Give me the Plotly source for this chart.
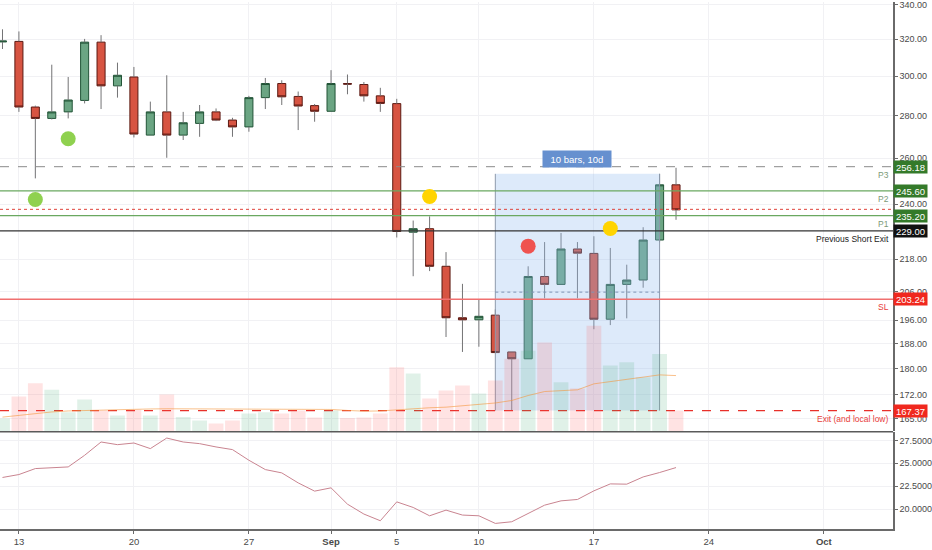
import numpy as np
import pandas as pd
import plotly.graph_objects as go

# daily bars, 12 Aug - 22 Sep 2018
dates = pd.date_range("2018-08-12", "2018-09-22", freq="D")

opens = [318.5, 318.8, 284.3, 278.7, 281.9, 287.6, 318.4, 295.0, 299.6, 270.7,
         281.9, 270.7, 276.3, 281.9, 277.9, 274.6, 289.0, 296.2, 289.6, 285.0,
         282.2, 296.2, 295.7, 289.9, 286.0, 228.5, 229.9, 215.3, 196.8, 196.1,
         197.7, 185.4, 183.2, 211.5, 208.6, 221.9, 220.2, 196.3, 208.6, 210.2,
         225.4, 248.2]
highs = [325.6, 324.4, 285.0, 306.1, 299.6, 320.2, 322.3, 307.2, 304.9, 287.0,
         300.5, 281.9, 285.3, 283.6, 279.0, 289.9, 299.1, 297.9, 292.1, 285.8,
         303.2, 300.9, 297.0, 294.0, 288.4, 233.2, 234.9, 220.7, 208.8, 203.2,
         199.7, 185.4, 215.3, 224.6, 228.2, 224.6, 226.9, 222.3, 215.9, 230.5,
         253.0, 255.7]
lows = [314.6, 281.9, 251.0, 278.2, 278.7, 286.1, 283.3, 289.0, 269.6, 270.7,
        260.2, 268.4, 269.9, 277.4, 269.9, 272.3, 283.3, 285.3, 273.1, 277.1,
        282.2, 290.7, 287.0, 281.9, 226.4, 211.6, 213.5, 190.3, 185.4, 187.1,
        185.0, 167.37, 183.2, 203.6, 208.6, 203.6, 192.9, 194.3, 196.6, 207.4,
        224.5, 233.5]
closes = [319.0, 284.3, 278.7, 281.9, 287.8, 318.4, 295.0, 300.5, 271.2, 281.9,
          270.7, 276.6, 281.9, 277.9, 274.6, 289.0, 296.2, 289.4, 284.8, 282.2,
          296.2, 295.9, 289.9, 286.1, 228.8, 229.9, 215.3, 196.8, 196.1, 197.3,
          185.2, 183.2, 211.5, 208.6, 221.9, 220.3, 196.3, 208.6, 210.2, 225.4,
          248.2, 237.6]
volumes = [130, 350, 483, 417, 193, 320, 210, 160, 220, 160,
           370, 143, 110, 80, 110, 180, 193, 180, 210, 140,
           210, 133, 140, 180, 643, 580, 330, 410, 460, 380,
           510, 730, 810, 893, 493, 430, 1060, 660, 693, 543,
           777, 210]
volume_ma = [143, 160, 180, 195, 205, 210, 215, 220, 220, 225,
             227, 227, 227, 225, 225, 227, 227, 227, 225, 225,
             220, 210, 203, 205, 217, 230, 237, 243, 255, 267,
             285, 310, 360, 400, 410, 417, 477, 500, 527, 545,
             567, 560]
indicator = [23.45, 23.77, 24.42, 24.53, 24.60, 25.87, 27.32, 27.03, 27.21, 26.60,
             27.75, 27.32, 27.14, 26.78, 26.49, 25.33, 24.31, 23.95, 22.86, 21.96,
             22.32, 20.54, 19.46, 18.73, 20.79, 20.18, 19.27, 19.89, 19.35, 19.27,
             18.44, 18.62, 19.53, 20.43, 20.90, 21.05, 21.99, 22.75, 22.72, 23.51,
             23.99, 24.53]

# horizontal levels drawn on the chart
level_prices = [256.18, 245.60, 237.8, 235.20, 229.00, 203.24, 167.37]
level_labels = ["P3", "P2", "", "P1", "Previous Short Exit", "SL", "Exit (and local low)"]
level_tags = ["256.18", "245.60", "", "235.20", "229.00", "203.24", "167.37"]

signal_dates = ["2018-08-14", "2018-08-16", "2018-09-07", "2018-09-13", "2018-09-18"]
signal_prices = [241.9, 269.0, 243.2, 223.0, 230.0]
signal_colors = ["#8fd14f", "#8fd14f", "#ffd400", "#ef5350", "#ffd400"]

range_start, range_end = "2018-09-11", "2018-09-21"
range_low, range_high, range_mid = 167.37, 253.0, 205.8
range_label = "10 bars, 10d"

price_ticks = [165, 172, 180, 188, 196, 206, 218, 240, 260, 280, 300, 320, 340]
indicator_ticks = [20.0, 22.5, 25.0, 27.5]
date_ticks = ["2018-08-13", "2018-08-20", "2018-08-27", "2018-09-01", "2018-09-05",
              "2018-09-10", "2018-09-17", "2018-09-24", "2018-10-01"]
date_labels = ["13", "20", "27", "<b>Sep</b>", "5", "10", "17", "24", "<b>Oct</b>"]

x_range = ["2018-08-11 20:22", "2018-10-05 05:00"]
FONT = "Liberation Sans, Arial, sans-serif"

o = np.array(opens)
c = np.array(closes)
body_top = np.maximum(o, c)
body_bot = np.minimum(o, c)
up = c >= o

fig = go.Figure()

# wicks outside the bodies
wx, wy = [], []
for d, h, l, t, b in zip(dates, highs, lows, body_top, body_bot):
    wx += [d, d, None, d, d, None]
    wy += [h, t, None, b, l, None]
fig.add_trace(go.Scatter(x=wx, y=wy, mode="lines", line=dict(color="#737375", width=1),
                         hoverinfo="skip"))

fig.add_trace(go.Candlestick(
    x=dates, open=opens, close=closes, high=body_top, low=body_bot,
    increasing=dict(fillcolor="#6ba583", line=dict(color="#225437", width=1)),
    decreasing=dict(fillcolor="#d75442", line=dict(color="#5b1a13", width=1)),
    whiskerwidth=0,
))

# date range box over the candles
fig.add_trace(go.Scatter(
    x=[range_start, range_end, range_end, range_start, range_start],
    y=[range_low, range_low, range_high, range_high, range_low],
    mode="lines", fill="toself", fillcolor="rgba(150,190,240,0.32)",
    line=dict(width=0), hoverinfo="skip"))
for xd in (range_start, range_end):
    fig.add_trace(go.Scatter(x=[xd, xd], y=[range_low, range_high], mode="lines",
                             line=dict(color="#8d9aab", width=1), hoverinfo="skip"))
fig.add_trace(go.Scatter(x=[range_start, range_end], y=[range_mid, range_mid], mode="lines",
                         line=dict(color="#7f95b5", width=1, dash="dot"), hoverinfo="skip"))

level_styles = [("#8a8a8a", 1, "dash"), ("#6aa860", 1.2, "solid"), ("#e0443c", 1, "dot"),
                ("#6aa860", 1.2, "solid"), ("#333333", 1.3, "solid"),
                ("#f07070", 1.5, "solid"), ("#e8302a", 1.2, "dash")]
for p, (col, w, dsh) in zip(level_prices, level_styles):
    fig.add_trace(go.Scatter(x=x_range, y=[p, p], mode="lines",
                             line=dict(color=col, width=w, dash=dsh), hoverinfo="skip"))

fig.add_trace(go.Scatter(x=signal_dates, y=signal_prices, mode="markers",
                         marker=dict(size=15, color=signal_colors, line=dict(width=0))))

# volume, overlaid on the price pane
vol_colors = ["rgba(60,170,110,0.16)" if u else "rgba(255,82,82,0.16)" for u in up]
fig.add_trace(go.Bar(x=dates, y=volumes, marker=dict(color=vol_colors, line=dict(width=0)),
                     width=0.9 * 86400000, yaxis="y3"))
fig.add_trace(go.Scatter(x=dates, y=volume_ma, mode="lines", yaxis="y3",
                         line=dict(color="rgba(245,150,60,0.6)", width=1)))

# lower indicator pane
fig.add_trace(go.Scatter(x=dates, y=indicator, mode="lines", yaxis="y2",
                         line=dict(color="#c98490", width=1)))

annotations = []
label_colors = ["#7c9a78", "#7c9a78", None, "#7c9a78", "#222222", "#e8403b", "#e8403b"]
tag_colors = ["#347a2a", "#347a2a", None, "#347a2a", "#111111", "#f0281e", "#f0281e"]
for p, lab, tag, lc, tc in zip(level_prices, level_labels, level_tags, label_colors, tag_colors):
    if lab:
        annotations.append(dict(xref="paper", x=1, xanchor="right", xshift=-2,
                                yref="y", y=np.log10(p), yanchor="top", yshift=-1,
                                text=lab, showarrow=False,
                                font=dict(family=FONT, size=8.5, color=lc)))
    if tag:
        annotations.append(dict(xref="paper", x=1, xanchor="left", xshift=0,
                                yref="y", y=np.log10(p), yanchor="middle",
                                text=tag, showarrow=False, bgcolor=tc,
                                width=33, height=12, borderpad=0,
                                font=dict(family=FONT, size=9.5, color="white")))

mid = pd.Timestamp(range_start) + (pd.Timestamp(range_end) - pd.Timestamp(range_start)) / 2
annotations.append(dict(x=mid, y=np.log10(range_high), yanchor="bottom", yshift=6,
                        text=range_label, showarrow=False, bgcolor="#6690cf",
                        width=66, height=14, borderpad=1,
                        font=dict(family=FONT, size=9.5, color="white")))

main_bottom = 1 - 431 / 529
lower_top = 97 / 529

axis_font = dict(family=FONT, size=9, color="#4a4a4a")
fig.update_layout(
    width=932, height=550,
    margin=dict(l=0, r=35, t=0, b=21),
    paper_bgcolor="white", plot_bgcolor="white",
    showlegend=False, hovermode=False,
    font=dict(family=FONT, size=9, color="#4a4a4a"),
    annotations=annotations,
    xaxis=dict(type="date", range=x_range, anchor="y2", domain=[0, 1],
               tickvals=date_ticks, ticktext=date_labels,
               showgrid=True, gridcolor="#f1f1f4", gridwidth=1,
               showline=True, linecolor="#6a6a6a", linewidth=1.5,
               ticks="outside", ticklen=3, tickcolor="#6a6a6a",
               tickfont=dict(family=FONT, size=9.5, color="#4a4a4a"),
               rangeslider=dict(visible=False), zeroline=False),
    yaxis=dict(type="log", domain=[main_bottom, 1], anchor="x", side="right",
               range=[np.log10(161.4), np.log10(341.5)],
               tickvals=price_ticks, ticktext=["%.2f" % v for v in price_ticks],
               ticklabeloverflow="allow",
               showgrid=True, gridcolor="#f1f1f4",
               showline=True, linecolor="#6a6a6a", linewidth=1.5,
               ticks="outside", ticklen=3, tickcolor="#6a6a6a", zeroline=False,
               tickfont=axis_font),
    yaxis2=dict(domain=[0, lower_top], anchor="x", side="right",
                range=[17.83, 28.37],
                tickvals=indicator_ticks, ticktext=["%.4f" % v for v in indicator_ticks],
                showgrid=True, gridcolor="#f1f1f4",
                showline=True, linecolor="#6a6a6a", linewidth=1.5,
                ticks="outside", ticklen=3, tickcolor="#6a6a6a", zeroline=False,
                tickfont=axis_font),
    yaxis3=dict(overlaying="y", anchor="x", range=[0, 4310], visible=False),
    shapes=[dict(type="line", xref="paper", yref="paper", x0=0, x1=1,
                 y0=(main_bottom + lower_top) / 2, y1=(main_bottom + lower_top) / 2,
                 line=dict(color="#5a5a5a", width=1.5))],
)

# the page body has a default 8px margin; drop it so the figure fills the window
fig.write_html("out.html", config={"displayModeBar": False},
               post_script="document.body.style.margin='0';")
